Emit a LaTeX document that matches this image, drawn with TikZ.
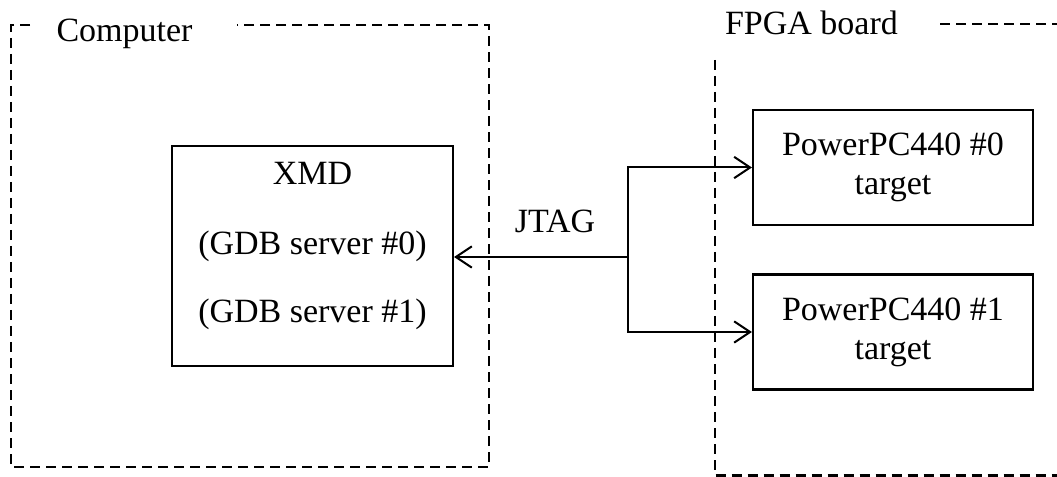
\documentclass[tikz,border=0pt]{standalone}
\usepackage{fontspec}
\setmainfont{Liberation Serif}
\usetikzlibrary{arrows.meta}
\usetikzlibrary{positioning}

\tikzset{
  blk/.style={draw, line width=1.6pt, minimum width=210pt, minimum height=86.25pt, align=center, font=\fontsize{25.5}{29.25}\selectfont},
  frame/.style={line width=2pt, dash pattern=on 7.5pt off 4.5pt},
  conn/.style={line width=1.5pt, -{Straight Barb[length=12pt,width=16pt]}},
  lbl/.style={inner sep=0pt, font=\fontsize{25.5}{29.25}\selectfont},
}

\begin{document}
\begin{tikzpicture}[x=0.75pt,y=0.75pt,yscale=-1,xscale=1]
\useasboundingbox (0,0) rectangle (1057,477);

%Dashed frame: computer
\draw[frame] (30,25) -- (11,25) -- (11,467) -- (489,467) -- (489,25) -- (237,25) ;
% Text Node
\node[lbl, anchor=base] (comp) at (124.5,42) {Computer};

%Dashed frame: FPGA board
\draw[frame] (715,60) -- (715,475.5) -- (1057,475.5) ;
\draw[frame] (940,24) -- (1057,24) ;
% Text Node
\node[lbl, anchor=base] (fpga) at (811.5,35) {FPGA board};

%Shape: Rectangle
\node[blk, minimum width=210.75pt, minimum height=165pt] (xmd) at (312.5,256) {};
\node[lbl, anchor=base] (xmdname) at (312.5,185) {XMD};
\node[lbl, anchor=base] (gdb0) at (312.5,254.5) {(GDB server \#0)};
\node[lbl, anchor=base] (gdb1) at (312.5,322.5) {(GDB server \#1)};

%Shape: Rectangle
\node[blk] (ppc0) at (893,167.5) {PowerPC440 \#0\\target};
%Shape: Rectangle
\node[blk] (ppc1) at (893,332) {PowerPC440 \#1\\target};

%Connectors
\coordinate (jtag) at (628,257);
\draw[conn] (jtag) -- (jtag -| xmd.east) ;
\draw[conn] (jtag) |- (ppc0.west) ;
\draw[conn] (jtag) |- (ppc1.west) ;
% Text Node
\node[lbl, anchor=base] (jtaglbl) at (555,233) {JTAG};

\end{tikzpicture}
\end{document}
